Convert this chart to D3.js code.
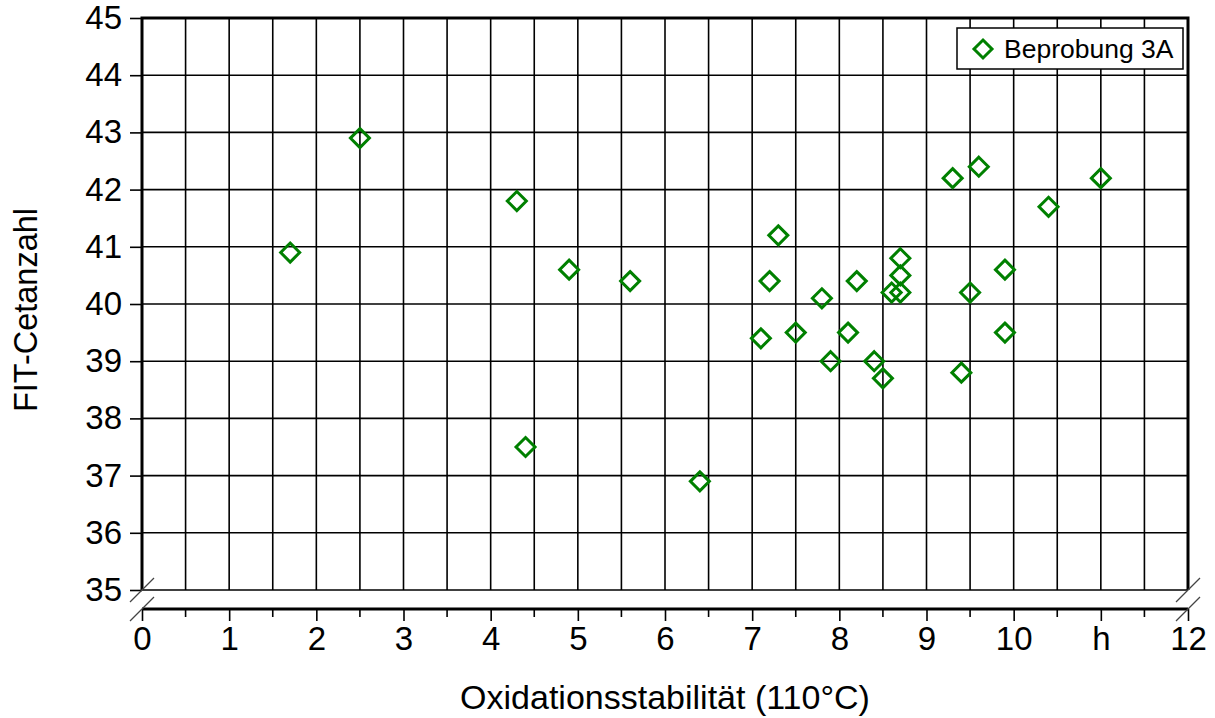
<!DOCTYPE html>
<html>
<head>
<meta charset="utf-8">
<script src="https://cdn.jsdelivr.net/npm/d3@7"></script>
<style>
  html, body { margin: 0; padding: 0; background: #fff; }
  svg { display: block; font-family: "Liberation Sans", Arial, sans-serif; }
</style>
</head>
<body>
<svg id="chart" width="1215" height="718"></svg>
<script>
// Oxidation stability (h) versus FIT cetane number, sample set 3A
const oxidationStability = [1.7, 2.5, 4.3, 4.4, 4.9, 5.6, 6.4, 7.1, 7.2, 7.3, 7.5, 7.8, 7.9, 8.1, 8.2, 8.4, 8.5, 8.6, 8.7, 8.7, 8.7, 9.3, 9.4, 9.5, 9.6, 9.9, 9.9, 10.4, 11.0];
const cetaneNumber       = [40.9, 42.9, 41.8, 37.5, 40.6, 40.4, 36.9, 39.4, 40.4, 41.2, 39.5, 40.1, 39.0, 39.5, 40.4, 39.0, 38.7, 40.2, 40.2, 40.5, 40.8, 42.2, 38.8, 40.2, 42.4, 40.6, 39.5, 41.7, 42.2];
const xTickValues = [0, 1, 2, 3, 4, 5, 6, 7, 8, 9, 10, 11, 12];
const xTickLabels = ["0", "1", "2", "3", "4", "5", "6", "7", "8", "9", "10", "h", "12"];
const yTickValues = [35, 36, 37, 38, 39, 40, 41, 42, 43, 44, 45];
const seriesName = "Beprobung 3A";
const xTitle = "Oxidationsstabilität (110°C)";
const yTitle = "FIT-Cetanzahl";

(function () {
  const svg = d3.select("#chart");
  const pLeft = 142, pRight = 1188, pTop = 18, pBottom = 590, axisY = 609;
  const green = "#008000";

  const x = d3.scaleLinear().domain([0, 12]).range([pLeft, pRight]);
  const y = d3.scaleLinear().domain([35, 45]).range([pBottom, pTop]);

  // grid
  const grid = svg.append("g").attr("stroke", "#000").attr("stroke-width", 1.6);
  grid.selectAll("line.v").data(d3.range(0.5, 12, 0.5)).join("line").attr("class", "v")
    .attr("x1", d => x(d)).attr("x2", d => x(d)).attr("y1", pTop).attr("y2", pBottom);
  grid.selectAll("line.h").data(yTickValues.slice(0, -1)).join("line").attr("class", "h")
    .attr("x1", pLeft).attr("x2", pRight).attr("y1", d => y(d)).attr("y2", d => y(d));

  // frame: left, top, right drawn heavy
  svg.append("path")
    .attr("d", `M${pLeft},${pBottom}V${pTop}H${pRight}V${pBottom}`)
    .attr("fill", "none").attr("stroke", "#000").attr("stroke-width", 3);

  // y axis
  const yAxis = d3.axisLeft(y).tickValues(yTickValues).tickSize(12).tickPadding(8);
  const yg = svg.append("g").attr("transform", `translate(${pLeft},0)`).call(yAxis);
  yg.select(".domain").remove();
  yg.selectAll(".tick line").attr("stroke", "#000").attr("stroke-width", 1.6);
  yg.selectAll(".tick text").attr("font-size", 33).attr("fill", "#000")
    .attr("font-family", "Liberation Sans, Arial, sans-serif");

  // x axis, set apart from the plot by an axis break
  const xAxis = d3.axisBottom(x).tickValues(xTickValues)
    .tickFormat((d, i) => xTickLabels[i]).tickSize(12).tickPadding(6);
  const xg = svg.append("g").attr("transform", `translate(0,${axisY})`).call(xAxis);
  xg.select(".domain").attr("d", `M${pLeft},0H${pRight}`).attr("stroke", "#000").attr("stroke-width", 3);
  xg.selectAll(".tick line").attr("stroke", "#000").attr("stroke-width", 1.6);
  xg.selectAll(".tick text").attr("font-size", 33).attr("fill", "#000")
    .attr("font-family", "Liberation Sans, Arial, sans-serif");
  xg.selectAll("line.minor").data(d3.range(0.5, 12, 1)).join("line")
    .attr("class", "minor")
    .attr("x1", d => x(d)).attr("x2", d => x(d)).attr("y1", 0).attr("y2", 8)
    .attr("stroke", "#000").attr("stroke-width", 1.6);

  // axis break marks
  const breaks = svg.append("g").attr("stroke", "#444").attr("stroke-width", 1.2);
  [pLeft, pRight].forEach(bx => {
    [pBottom, axisY].forEach(by => {
      breaks.append("line").attr("x1", bx - 12).attr("y1", by + 12).attr("x2", bx + 12).attr("y2", by - 12);
    });
  });

  // data markers
  const diamond = r => `M0,${-r}L${r},0L0,${r}L${-r},0Z`;
  svg.append("g").selectAll("path").data(oxidationStability).join("path")
    .attr("d", diamond(9.5))
    .attr("transform", (d, i) => `translate(${x(d)},${y(cetaneNumber[i])})`)
    .attr("fill", "none").attr("stroke", green).attr("stroke-width", 3);

  // legend
  const lg = svg.append("g");
  lg.append("rect").attr("x", 957).attr("y", 28).attr("width", 226).attr("height", 41)
    .attr("fill", "#fff").attr("stroke", "#000").attr("stroke-width", 1.5);
  lg.append("path").attr("d", diamond(9)).attr("transform", "translate(983,49)")
    .attr("fill", "none").attr("stroke", green).attr("stroke-width", 3);
  lg.append("text").attr("x", 1004).attr("y", 58).attr("font-size", 26.5).text(seriesName);

  // axis titles
  svg.append("text").attr("x", (pLeft + pRight) / 2).attr("y", 709)
    .attr("text-anchor", "middle").attr("font-size", 34).text(xTitle);
  svg.append("text").attr("transform", "translate(37,310) rotate(-90)")
    .attr("text-anchor", "middle").attr("font-size", 32.5).text(yTitle);
})();
</script>
</body>
</html>
